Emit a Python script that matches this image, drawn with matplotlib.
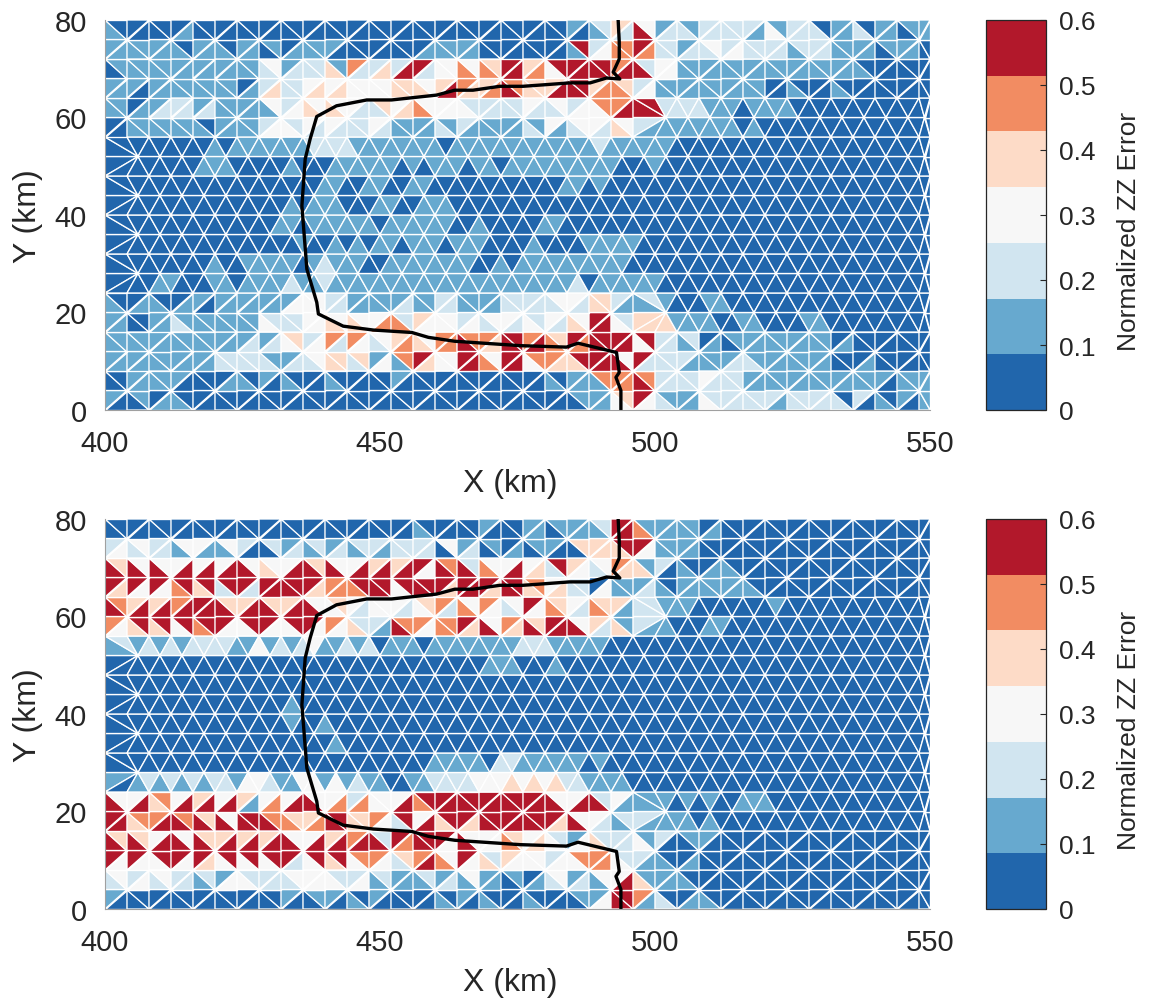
import matplotlib as mpl
import matplotlib.pyplot as plt
import numpy as np
from matplotlib.colors import ListedColormap

mpl.use('agg')
plt.rcParams['font.family'] = ['Liberation Sans', 'DejaVu Sans']

# error class of each triangle, row by row from the top (y=80) down,
# read left to right, two triangles per mesh cell, 5 cells per group.
# rows stop early when the rest of the row is class 0
errTop = [
    "1000000100 0000000000 0000000000 0000000000 0010124263 1221222221 3122201120 110111",
    "1111111011 1011010111 1000000001 1111000000 0016235565 2212232322 2212221111 011100",
    "0111111111 1111231222 4152242662 3353546645 3666665662 3311111111 1111111110",
    "1110111111 1101242234 3433334443 4654456544 4666455423 1111111111 0010001000",
    "1101122212 1111132343 4332243453 3332222232 2323355666 2222111011 1100000000",
    "0011111110 1111233232 3222321111 2121111121 3123324321 1111111010",
    "0000000001 0111111122 2211111111 0111111111 1111211111 1000000000",
    "0000000011 1000001000 1111110101 1101101111 1111110001",
    "0000000000 0000000001 1001100110 0000000000 0110100000",
    "0000000000 0000001011 1000110011 1000000000",
    "0000000000 0000011011 1111011111 1001000001 1000000000",
    "0000000000 0000000100 1010110111 0111000010 0001111100",
    "0000000001 0011111012 1110011111 1110010111 1111111000",
    "0000110001 1011112112 1111111111 1111111111 1120111111",
    "1001100110 1111111333 2211111211 2211112222 2332442112 1000110000",
    "1100112111 1111322233 4343355243 3323233232 3243663244 4111100110 0001100000",
    "1111111111 1112123423 5253234543 5565546656 5465666636 2212010111 1111110100",
    "1111111111 2222211223 4424131564 3366536635 5446666362 2221111221 1111110001",
    "0011111000 0110101000 1000001000 0000000000 1011155565 2222322211 1111111111 101111",
    "1001011000 0000000000 0000000000 0000000000 0001113463 2111322222 2122222020 101011",
]
errBottom = [
    "0000000000 0000000000 0000000010 0000100011 0111126651 1111010000",
    "2323221331 1320021212 1212212222 0312010101 1004444663 1111000000",
    "6463633636 3663433664 6336464663 6562533634 2643235441 2010011000",
    "6463635646 2662666664 5556663666 6466646645 3422031112 1011111110",
    "6546465666 6446644663 3432333234 5253532363 5432544122 1110000000 1000000000",
    "5346463656 6336633663 5342216553 5564635464 6663424121 1000110000",
    "1212121222 2113121231 1212011101 1111111222 1111100000",
    "0000000000 0000000000 0000000000 0000111000 1000000000",
    "",
    "0000000000 0000001000",
    "0000000000 0000001001",
    "0000000000 0000000000 1000000000",
    "0000000000 0000000000 0000000001 1111022111 1110100000",
    "1012121212 2133211331 3121100112 2223334343 4221111000",
    "6336453646 3641353663 3525333656 6666666666 6336623111 1010100111",
    "6645566564 6366655445 6644532636 4664666666 6463321221 1110100000",
    "6464366364 4646466336 4656626566 6363335434 3213422231 2001100000",
    "6363366364 3636366236 4635532456 5363424333 2335553221 1001000000",
    "2323232212 1332222333 3223121112 1213110101 2312133641 1110000000",
    "1000000000 0000001001 1010100000 1010100010 0001136651 2001100000",
]

# cell diagonals of the mesh where they were readable, from the left of the row:
# f is /, b is \, the rest of the row alternates. key is the mesh row, y = 4 * key
meshDiag = {
    17: "bbbfffbbfbbffffbbbf",
    16: "fffbbbffbffbbbbfffb",
    15: "bffffbfbfbb",
    14: "fbbbbfbfbff",
    5: "bfbffffffbff",
    4: "fbfbbbbbbfbb",
    3: "bbfbbfffbfff",
    2: "ffbffbbbfbbb",
}

# the black outline, same in both panels
lineX = [493.3, 493.5, 493.5, 492.4, 493.6, 491.2, 488.2, 484.5, 479.7, 476.0, 471.8, 466.9,
         463.6, 460.3, 452.1, 447.6, 442.1, 438.5, 437.3, 436.4, 435.8, 436.7, 438.5, 438.8,
         443.3, 448.8, 455.8, 458.8, 463.6, 475.5, 483.9, 486.0, 493.0, 493.5, 492.9, 493.8, 493.8]
lineY = [80.0, 75.5, 72.0, 69.3, 67.9, 68.1, 67.1, 67.1, 66.7, 66.4, 66.4, 65.6,
         65.6, 64.6, 63.6, 63.6, 62.4, 60.2, 55.6, 51.5, 41.9, 28.9, 22.1, 19.7,
         17.2, 16.4, 15.9, 14.9, 14.1, 13.2, 12.9, 13.7, 11.8, 7.7, 6.7, 4.0, 0.0]

classColors = ['#2166ac', '#67a9cf', '#d1e5f0', '#f7f7f7', '#fddbc7', '#f28c62', '#b2182b']
cbTicks = [0, 0.1, 0.2, 0.3, 0.4, 0.5, 0.6]
cbTickLabels = ['0', '0.1', '0.2', '0.3', '0.4', '0.5', '0.6']
xTicks = [400, 450, 500, 550]
yTicks = [0, 20, 40, 60, 80]

nCols = 38
nRows = 20
textColor = '#262626'
W, H = 1152.0, 1003.0


def isShifted(i, j):
    # odd rows of the middle band and the right part are staggered
    if j % 2 == 0 or i == 0 or i > 37:
        return False
    if j in (7, 9, 11, 13):
        return True
    return j in (5, 15) and 400 + 4 * i >= 500


def isBackDiag(i, j):
    row = meshDiag.get(j, "")
    if i < len(row):
        return row[i] == "b"
    if isShifted(i, j + 1):
        return True
    if isShifted(i, j):
        return False
    return (i + j) % 2 == 1


def buildMesh():
    xs, ys = [], []
    for j in range(nRows + 1):
        for i in range(nCols + 1):
            x = min(400 + 4 * i, 550)
            if isShifted(i, j):
                x = min(x + 2, 549)
            xs.append(x)
            ys.append(4 * j)
    tris = []
    for j in range(nRows):
        for i in range(nCols):
            a = j * (nCols + 1) + i
            b, c, d = a + 1, a + nCols + 1, a + nCols + 2
            if isBackDiag(i, j):
                tris += [[a, b, c], [b, d, c]]
            else:
                tris += [[a, d, c], [a, b, d]]
    return np.array(xs), np.array(ys), np.array(tris)


def faceValues(rows):
    vals = []
    # rows are stored top down, the mesh goes bottom up
    for row in rows[::-1]:
        row = row.replace(" ", "").ljust(2 * nCols, "0")
        vals += [(int(c) + 0.5) * 0.6 / 7 for c in row]
    return np.array(vals)


def placeAxes(fig, left, right, top, bottom):
    return fig.add_axes([left / W, 1 - bottom / H, (right - left) / W, (bottom - top) / H])


def drawPanel(fig, rows, top, bottom, cmap):
    ax = placeAxes(fig, 105, 930, top, bottom)
    xs, ys, tris = buildMesh()
    pc = ax.tripcolor(xs, ys, tris, facecolors=faceValues(rows), cmap=cmap, vmin=0, vmax=0.6,
                      edgecolors='white', linewidth=0.95)
    ax.plot(lineX, lineY, color='black', linewidth=2.4, solid_joinstyle='round')
    ax.set_xlim(400, 550)
    ax.set_ylim(0, 80)
    ax.set_xticks(xTicks)
    ax.set_yticks(yTicks)
    ax.tick_params(axis='x', length=0, labelsize=21, labelcolor=textColor, pad=14)
    ax.tick_params(axis='y', length=0, labelsize=21, labelcolor=textColor, pad=13)
    ax.set_xlabel('X (km)', fontsize=23, color=textColor)
    ax.xaxis.set_label_coords(0.491, -0.149)
    ax.set_ylabel('Y (km)', fontsize=23, color=textColor, labelpad=8)
    for name, spine in ax.spines.items():
        spine.set_visible(name in ('left', 'bottom'))
        spine.set_color('#a0a0a0')
        spine.set_linewidth(0.8)

    cax = placeAxes(fig, 986, 1046, top, bottom)
    cb = fig.colorbar(pc, cax=cax)
    cb.set_ticks(cbTicks)
    cb.set_ticklabels(cbTickLabels)
    cb.ax.tick_params(direction='in', length=4, width=0.8, color=textColor,
                      labelsize=19, labelcolor=textColor, pad=9)
    cb.outline.set_edgecolor(textColor)
    cb.outline.set_linewidth(0.9)
    cb.set_label('Normalized ZZ Error', fontsize=19, color=textColor, labelpad=16, y=0.46)


cmap = ListedColormap(classColors)
fig = plt.figure(figsize=(W / 100, H / 100), dpi=100)
drawPanel(fig, errTop, 21, 411, cmap)
drawPanel(fig, errBottom, 520, 910, cmap)
fig.savefig('out.png', dpi=100)
